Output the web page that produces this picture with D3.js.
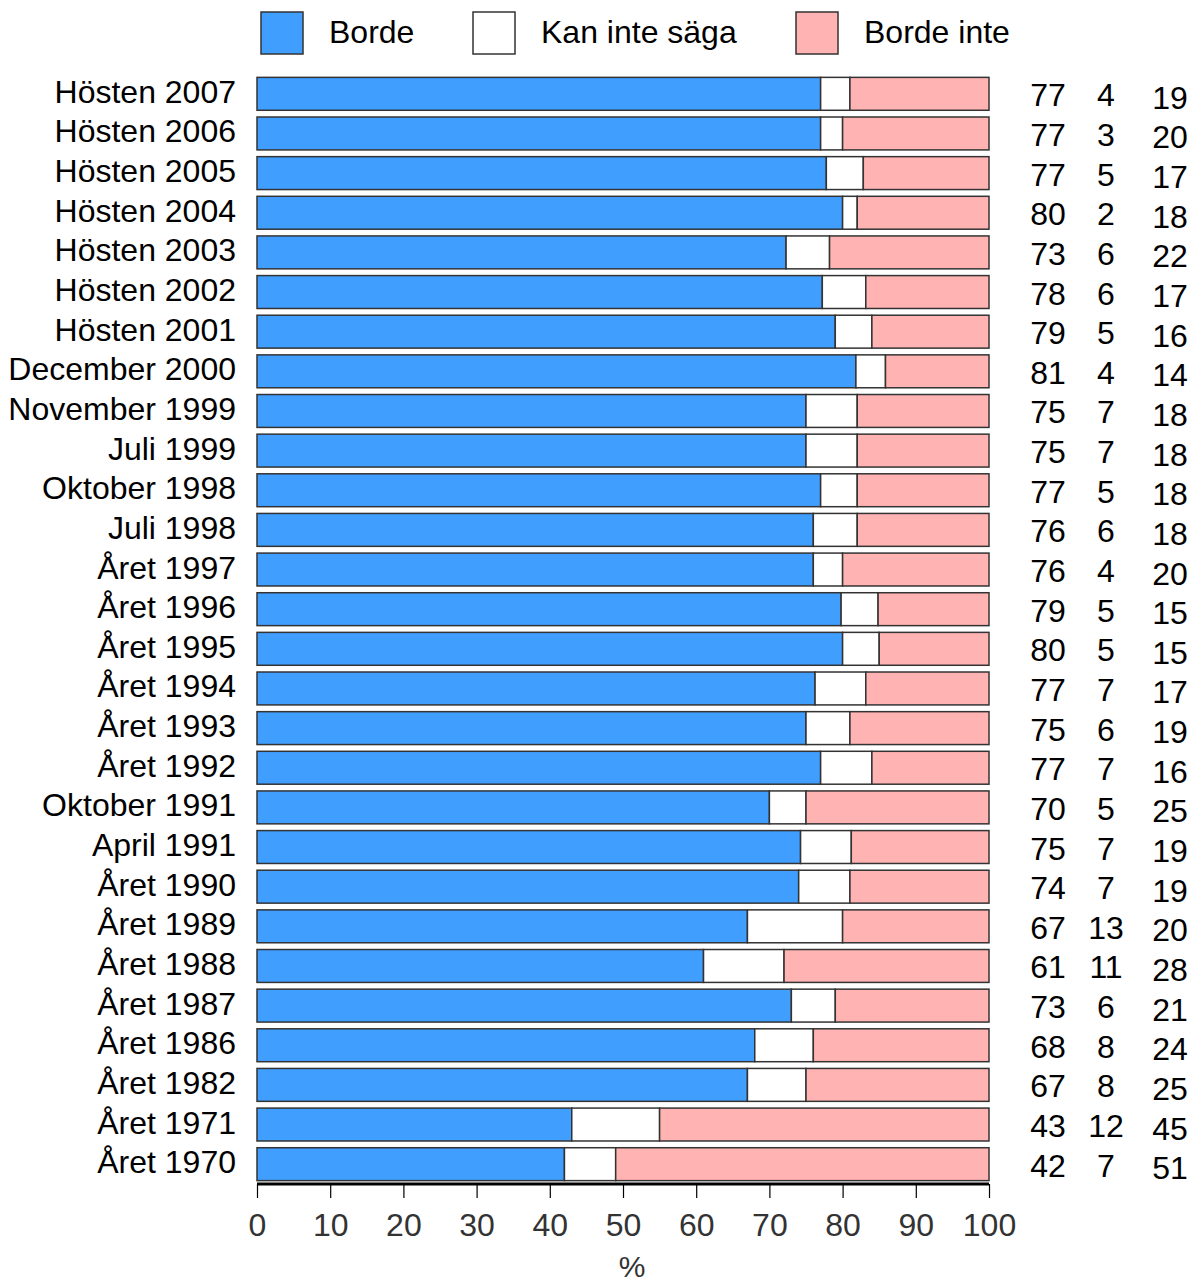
<!DOCTYPE html>
<html>
<head>
<meta charset="utf-8">
<script src="https://cdn.jsdelivr.net/npm/d3@7"></script>
<style>
  body { margin: 0; background: #fff; }
  text { font-family: "Liberation Sans", Arial, sans-serif; }
</style>
</head>
<body>
<div id="chart"></div>
<script>
const periods = ["Hösten 2007", "Hösten 2006", "Hösten 2005", "Hösten 2004", "Hösten 2003",
  "Hösten 2002", "Hösten 2001", "December 2000", "November 1999", "Juli 1999",
  "Oktober 1998", "Juli 1998", "Året 1997", "Året 1996", "Året 1995", "Året 1994",
  "Året 1993", "Året 1992", "Oktober 1991", "April 1991", "Året 1990", "Året 1989",
  "Året 1988", "Året 1987", "Året 1986", "Året 1982", "Året 1971", "Året 1970"];
const borde =     [77, 77, 77, 80, 73, 78, 79, 81, 75, 75, 77, 76, 76, 79, 80, 77, 75, 77, 70, 75, 74, 67, 61, 73, 68, 67, 43, 42];
const kanInte =   [4, 3, 5, 2, 6, 6, 5, 4, 7, 7, 5, 6, 4, 5, 5, 7, 6, 7, 5, 7, 7, 13, 11, 6, 8, 8, 12, 7];
const bordeInte = [19, 20, 17, 18, 22, 17, 16, 14, 18, 18, 18, 18, 20, 15, 15, 17, 19, 16, 25, 19, 19, 20, 28, 21, 24, 25, 45, 51];
const seriesNames = ["Borde", "Kan inte säga", "Borde inte"];
const seriesColors = ["#409eff", "#ffffff", "#ffb3b3"];
const xTicks = [0, 10, 20, 30, 40, 50, 60, 70, 80, 90, 100];

const width = 1202, height = 1284;
const svg = d3.select("#chart").append("svg")
  .attr("width", width).attr("height", height);

const rows = periods.map((p, i) => {
  const vals = [borde[i], kanInte[i], bordeInte[i]];
  const total = d3.sum(vals);
  let acc = 0;
  const segs = vals.map((v, k) => {
    const s = { k, x0: acc / total * 100, x1: (acc + v) / total * 100 };
    acc += v;
    return s;
  });
  return { period: p, vals, segs };
});

const x = d3.scaleLinear().domain([0, 100]).range([257, 989]);
const y = d3.scaleBand().domain(periods).range([74, 1184])
  .paddingInner(0.17).paddingOuter(0.085);

// bars
const rowG = svg.append("g").selectAll("g").data(rows).join("g")
  .attr("transform", d => `translate(0,${y(d.period)})`);

rowG.selectAll("rect").data(d => d.segs).join("rect")
  .attr("x", s => x(s.x0))
  .attr("width", s => x(s.x1) - x(s.x0))
  .attr("height", y.bandwidth())
  .attr("fill", s => seriesColors[s.k])
  .attr("stroke", "#333")
  .attr("stroke-width", 1.5);

// row labels
rowG.append("text")
  .attr("x", 236).attr("y", y.bandwidth() / 2 - 2.5)
  .attr("dy", "0.36em")
  .attr("text-anchor", "end")
  .attr("font-size", 32)
  .text(d => d.period);

// value columns
const colX = [1048, 1106, 1170];
const colDy = [1, 1, 3.5];
rowG.selectAll("text.val").data(d => d.vals).join("text")
  .attr("class", "val")
  .attr("x", (v, k) => colX[k])
  .attr("y", (v, k) => y.bandwidth() / 2 + colDy[k])
  .attr("dy", "0.36em")
  .attr("text-anchor", "middle")
  .attr("font-size", 32)
  .text(v => v);

// x axis
const axis = svg.append("g")
  .attr("transform", `translate(0,1184)`)
  .call(d3.axisBottom(x).tickValues(xTicks).tickSize(14).tickPadding(15).tickFormat(d3.format("d")));
axis.select(".domain").attr("stroke", "#000").attr("stroke-width", 3)
  .attr("d", `M${x(0)},0H${x(100)}`);
axis.selectAll(".tick line").attr("stroke", "#000").attr("stroke-width", 1.2);
axis.selectAll(".tick text").attr("fill", "#333").attr("font-size", 32)
  .attr("font-family", "'Liberation Sans', Arial, sans-serif");

svg.append("text")
  .attr("x", 632).attr("y", 1266).attr("dy", "0.36em")
  .attr("text-anchor", "middle")
  .attr("font-size", 30).attr("fill", "#333")
  .text("%");

// legend
const legendX = [261, 473, 796];
const lg = svg.append("g").selectAll("g").data(seriesNames).join("g")
  .attr("transform", (d, i) => `translate(${legendX[i]},12)`);
lg.append("rect")
  .attr("width", 42).attr("height", 42)
  .attr("fill", (d, i) => seriesColors[i])
  .attr("stroke", "#333").attr("stroke-width", 1.5);
lg.append("text")
  .attr("x", 68).attr("y", 19).attr("dy", "0.36em")
  .attr("font-size", 32)
  .text(d => d);
</script>
</body>
</html>
